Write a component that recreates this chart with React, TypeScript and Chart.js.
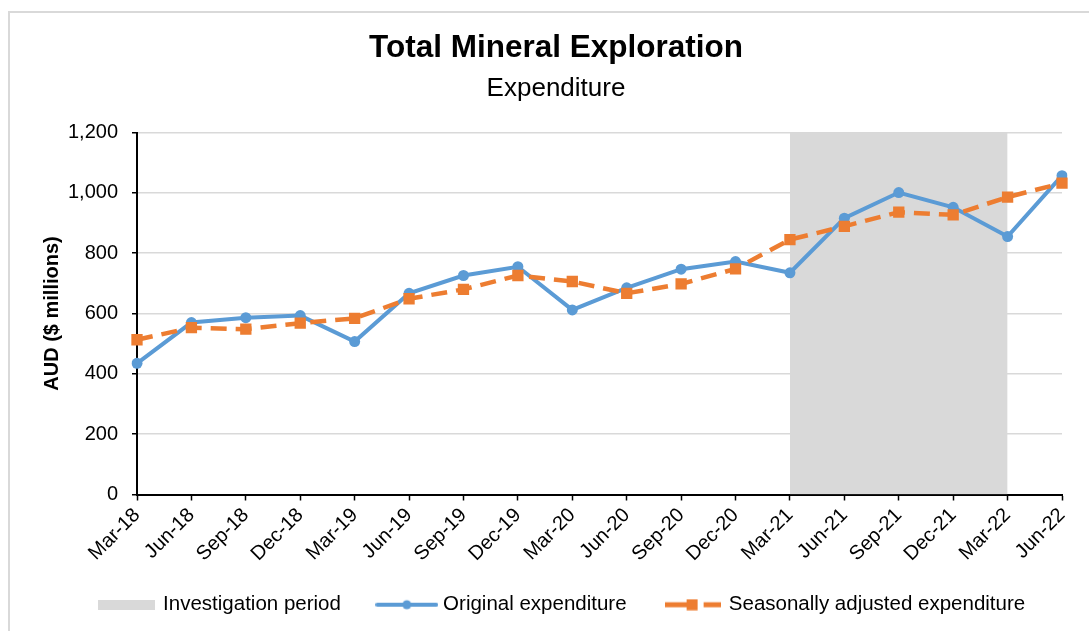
import React, { useEffect, useRef } from 'react';
import { Chart, registerables } from 'chart.js';

Chart.register(...registerables);

const categories = ['Mar-18', 'Jun-18', 'Sep-18', 'Dec-18', 'Mar-19', 'Jun-19', 'Sep-19', 'Dec-19', 'Mar-20', 'Jun-20', 'Sep-20', 'Dec-20', 'Mar-21', 'Jun-21', 'Sep-21', 'Dec-21', 'Mar-22', 'Jun-22'];
const originalExpenditure = [435, 570, 586, 593, 507, 667, 726, 755, 612, 685, 747, 772, 735, 916, 1001, 952, 855, 1057];
const seasonallyAdjusted = [513, 553, 548, 568, 584, 649, 680, 726, 706, 667, 698, 748, 845, 889, 936, 927, 986, 1032];
const investigationStart = 'Mar-21';
const investigationEnd = 'Mar-22';
const yMin = 0;
const yMax = 1200;
const yStep = 200;

const BLUE = '#5B9BD5';
const ORANGE = '#ED7D31';
const GRAY = '#D9D9D9';
const FONT = "'Liberation Sans', Arial, sans-serif";

function makeSymbol(kind: string): HTMLCanvasElement {
  const c = document.createElement('canvas');
  const ctx = c.getContext('2d')!;
  if (kind === 'box') {
    c.width = 57; c.height = 10;
    ctx.fillStyle = GRAY;
    ctx.fillRect(0, 0, 57, 10);
  } else if (kind === 'blue') {
    c.width = 63; c.height = 12;
    ctx.strokeStyle = BLUE;
    ctx.lineWidth = 4;
    ctx.lineCap = 'round';
    ctx.beginPath(); ctx.moveTo(2, 6); ctx.lineTo(61, 6); ctx.stroke();
    ctx.fillStyle = BLUE;
    ctx.beginPath(); ctx.arc(31.5, 6, 4.5, 0, Math.PI * 2); ctx.fill();
  } else {
    c.width = 56; c.height = 12;
    ctx.fillStyle = ORANGE;
    ctx.fillRect(0, 3.5, 22, 5);
    ctx.fillRect(22, 0.5, 11, 11);
    ctx.fillRect(39, 3.5, 17, 5);
  }
  return c;
}

const legendShift = {
  id: 'legendShift',
  afterLayout(chart: any) {
    if (chart.legend) {
      chart.legend.left += 7;
      chart.legend.right += 7;
    }
  },
};

export default function App() {
  const ref = useRef<HTMLCanvasElement>(null);

  useEffect(() => {
    Chart.defaults.font.family = FONT;
    Chart.defaults.color = '#000';
    const startIdx = categories.indexOf(investigationStart);
    const endIdx = categories.indexOf(investigationEnd);
    const periodData = categories.map((_, i) => (i >= startIdx && i <= endIdx ? yMax : null));
    const symBox = makeSymbol('box');
    const symBlue = makeSymbol('blue');
    const symOrange = makeSymbol('orange');

    const chart = new Chart(ref.current!, {
      type: 'line',
      data: {
        labels: categories,
        datasets: [
          {
            label: 'Seasonally adjusted expenditure',
            data: seasonallyAdjusted,
            borderColor: ORANGE,
            backgroundColor: ORANGE,
            borderWidth: 4.5,
            borderDash: [16, 9],
            borderCapStyle: 'butt',
            pointStyle: 'rect',
            pointRadius: 8,
            pointBorderWidth: 0,
            pointBackgroundColor: ORANGE,
            tension: 0,
            order: 1,
          },
          {
            label: 'Original expenditure',
            data: originalExpenditure,
            borderColor: BLUE,
            backgroundColor: BLUE,
            borderWidth: 4,
            pointRadius: 5.5,
            pointBorderWidth: 0,
            pointBackgroundColor: BLUE,
            tension: 0,
            order: 2,
          },
          {
            label: 'Investigation period',
            data: periodData,
            fill: 'origin',
            backgroundColor: GRAY,
            borderColor: 'rgba(0,0,0,0)',
            borderWidth: 0,
            pointRadius: 0,
            spanGaps: false,
            order: 3,
          },
        ],
      },
      plugins: [legendShift],
      options: {
        responsive: false,
        animation: false,
        layout: { padding: { left: 0, right: 0, top: 0, bottom: 6 } },
        plugins: {
          title: {
            display: true,
            text: 'Total Mineral Exploration',
            color: '#000',
            font: { size: 31.5, weight: 'bold', family: FONT },
            padding: { top: 16.5, bottom: 0 },
          },
          subtitle: {
            display: true,
            text: 'Expenditure',
            color: '#000',
            font: { size: 26, family: FONT },
            padding: { top: 6, bottom: 28 },
          },
          legend: {
            position: 'bottom',
            labels: {
              usePointStyle: true,
              pointStyleWidth: 52,
              padding: 40,
              color: '#000',
              font: { size: 20.5, family: FONT },
              generateLabels: () => [
                { text: 'Investigation period', pointStyle: symBox, fillStyle: GRAY, strokeStyle: GRAY, lineWidth: 0, hidden: false, datasetIndex: 2, fontColor: '#000' },
                { text: 'Original expenditure', pointStyle: symBlue, fillStyle: BLUE, strokeStyle: BLUE, lineWidth: 0, hidden: false, datasetIndex: 1, fontColor: '#000' },
                { text: 'Seasonally adjusted expenditure', pointStyle: symOrange, fillStyle: ORANGE, strokeStyle: ORANGE, lineWidth: 0, hidden: false, datasetIndex: 0, fontColor: '#000' },
              ] as any,
            },
          },
          tooltip: { enabled: false },
        },
        scales: {
          x: {
            grid: { drawOnChartArea: false, tickColor: '#000', tickLength: 6, tickWidth: 1.5 },
            border: { color: '#000', width: 2 },
            ticks: {
              color: '#000',
              font: { size: 20, family: FONT },
              minRotation: 45,
              maxRotation: 45,
              autoSkip: false,
              padding: 3,
            },
            afterFit: (s: any) => {
              s.height = 60;
              s.paddingRight = 40;
              s._computeLabelArea = () => undefined;
            },
          },
          y: {
            min: yMin,
            max: yMax,
            ticks: {
              stepSize: yStep,
              color: '#000',
              font: { size: 20, family: FONT },
              padding: 14,
              callback: (v: any) => Number(v).toLocaleString('en-US'),
            },
            grid: { color: GRAY, lineWidth: 1.5, tickColor: '#000', tickLength: 5, tickWidth: 1.5 },
            border: { color: '#000', width: 2 },
            title: {
              display: true,
              text: 'AUD ($ millions)',
              color: '#000',
              font: { size: 20, weight: 'bold', family: FONT },
              padding: { top: 30, bottom: 0 },
            },
            afterFit: (s: any) => {
              s.width = 127;
            },
          },
        },
      } as any,
    });
    return () => chart.destroy();
  }, []);

  return (
    <div style={{ position: 'fixed', left: 0, top: 0, width: 1089, height: 631, overflow: 'hidden', background: '#fff' }}>
      <div style={{ position: 'absolute', left: 8, top: 11, width: 1200, height: 700, borderLeft: `2px solid ${GRAY}`, borderTop: `2px solid ${GRAY}` }} />
      <div style={{ position: 'absolute', left: 10, top: 13, width: 1092, height: 618 }}>
        <canvas ref={ref} width={1092} height={618} style={{ display: 'block', width: 1092, height: 618 }} />
      </div>
    </div>
  );
}
